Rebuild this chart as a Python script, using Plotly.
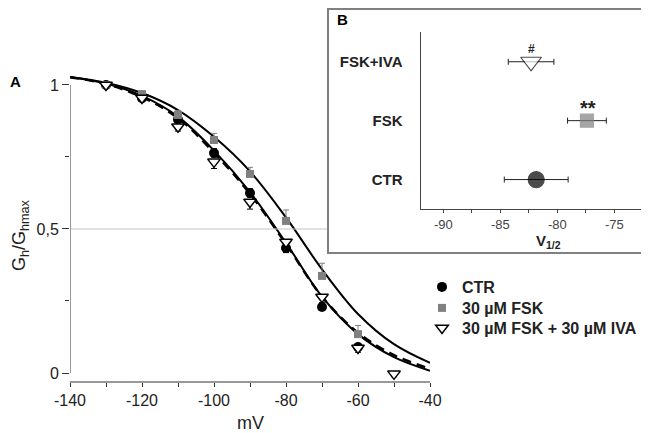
import plotly.graph_objects as go

FONT = "Liberation Sans"
OFF = 8                      # page offset of the plot div
W, H = 649 - OFF, 433 - OFF  # figure size that fits the window

# ---------------- data: panel A ----------------
fit_v = [-140, -130, -120, -110, -100, -90, -80, -70, -60, -50, -40]
fit_ctr = [1.027, 1.005, 0.962, 0.89, 0.772, 0.628, 0.452, 0.265, 0.135, 0.055, 0.008]
fit_fsk = [1.028, 1.008, 0.972, 0.913, 0.82, 0.70, 0.54, 0.36, 0.205, 0.10, 0.035]
fit_iva = [1.027, 1.003, 0.958, 0.885, 0.765, 0.622, 0.448, 0.265, 0.14, 0.062, 0.015]

ctr_v = [-130, -120, -110, -100, -90, -80, -70, -60]
ctr_g = [1.0, 0.954, 0.88, 0.764, 0.625, 0.434, 0.229, 0.09]
ctr_err = [0.01, 0.01, 0.015, 0.015, 0.015, 0.015, 0.012, 0.01]

fsk_v = [-130, -120, -110, -100, -90, -80, -70, -60]
fsk_g = [1.0, 0.968, 0.896, 0.809, 0.691, 0.528, 0.337, 0.135]
fsk_err = [0.01, 0.012, 0.015, 0.023, 0.023, 0.038, 0.044, 0.03]

iva_v = [-130, -120, -110, -100, -90, -80, -70, -60, -50]
iva_g = [1.0, 0.955, 0.855, 0.733, 0.594, 0.455, 0.264, 0.087, -0.003]
iva_err = [0.01, 0.012, 0.015, 0.023, 0.025, 0.037, 0.02, 0.015, 0.01]

x_ticks = [-140, -120, -100, -80, -60, -40]
x_ticktext = ["-140", "-120", "-100", "-80", "-60", "-40"]
x_minor = [-130, -110, -90, -70, -50]
y_ticks = [0, 0.5, 1]
y_ticktext = ["0", "0,5", "1"]
y_minor = [0.25, 0.75]

# ---------------- data: panel B ----------------
v12_cats = ["CTR", "FSK", "FSK+IVA"]
v12_mean = [-81.85, -77.4, -82.3]
v12_err = [2.8, 1.7, 2.0]
v12_sig = ["", "**", "#"]
inset_ticks = [-90, -85, -80, -75]
inset_ticktext = ["-90", "-85", "-80", "-75"]
inset_minor = [-87.5, -82.5, -77.5, -72.5]


def fx(p):
    return (p - OFF) / W


def fy(p):
    return 1 - (p - OFF) / H


fig = go.Figure()

# fitted curves
fig.add_trace(go.Scatter(x=fit_v, y=fit_fsk, mode="lines", line=dict(color="black", width=2, shape="spline"),
                         showlegend=False, hoverinfo="skip"))
fig.add_trace(go.Scatter(x=fit_v, y=fit_ctr, mode="lines", line=dict(color="black", width=2, shape="spline"),
                         showlegend=False, hoverinfo="skip"))
fig.add_trace(go.Scatter(x=fit_v, y=fit_iva, mode="lines",
                         line=dict(color="black", width=2.5, shape="spline", dash="9px,6px"),
                         showlegend=False, hoverinfo="skip"))

# data points
fig.add_trace(go.Scatter(x=ctr_v, y=ctr_g, mode="markers", name="<b>CTR</b>", legend="legend",
                         marker=dict(symbol="circle", size=10, color="black"),
                         error_y=dict(type="data", array=ctr_err, color="black", thickness=1, width=3),
                         cliponaxis=False))
fig.add_trace(go.Scatter(x=fsk_v, y=fsk_g, mode="markers", name="<b>30 µM FSK</b>", legend="legend2",
                         marker=dict(symbol="square", size=8, color="#808080"),
                         error_y=dict(type="data", array=fsk_err, arrayminus=[0] * len(fsk_err),
                                      color="#808080", thickness=1, width=3),
                         cliponaxis=False))
fig.add_trace(go.Scatter(x=iva_v, y=iva_g, mode="markers", name="<b>30 µM FSK + 30 µM IVA</b>",
                         legend="legend3",
                         marker=dict(symbol="triangle-down", size=11, color="white",
                                     line=dict(color="black", width=1.5)),
                         error_y=dict(type="data", array=[0] * len(iva_err), arrayminus=iva_err,
                                      color="black", thickness=1, width=3),
                         cliponaxis=False))

# inset
fig.add_trace(go.Scatter(x=v12_mean, y=[0, 1, 2], mode="markers", xaxis="x2", yaxis="y2",
                         showlegend=False,
                         marker=dict(symbol=["circle", "square", "triangle-down"], size=[16, 13, 18],
                                     color=["black", "#808080", "white"],
                                     line=dict(color=["black", "#808080", "black"], width=1.2)),
                         error_x=dict(type="data", array=v12_err, color="#222", thickness=1, width=3),
                         cliponaxis=False))

tickfont = dict(family=FONT, size=16, color="#222")
legfont = dict(family=FONT, size=16, color="#222")


def leg(ypx):
    return dict(x=fx(422), y=fy(ypx), xanchor="left", yanchor="middle", font=legfont,
                bgcolor="rgba(0,0,0,0)")


def ann(text, x, y, size, color="#222", **kw):
    d = dict(text=text, x=x, y=y, xref="paper", yref="paper", showarrow=False,
             xanchor="center", yanchor="middle", font=dict(family=FONT, size=size, color=color))
    d.update(kw)
    return d


fig.update_layout(
    width=W, height=H,
    margin=dict(l=0, r=0, t=0, b=0, autoexpand=False),
    paper_bgcolor="white", plot_bgcolor="rgba(0,0,0,0)",
    font=dict(family=FONT, color="#222"),
    xaxis=dict(domain=[fx(70), fx(430)], range=[-140, -40], tickvals=x_ticks, ticktext=x_ticktext,
               automargin=False,
               ticks="outside", ticklen=4, tickcolor="#333", showline=False, showgrid=False,
               zeroline=False, tickfont=tickfont,
               minor=dict(tickvals=x_minor, ticks="outside", ticklen=4, tickcolor="#333")),
    yaxis=dict(domain=[fy(382), fy(64.8)], range=[-0.03125, 1.07], tickvals=y_ticks, automargin=False,
               ticktext=y_ticktext, ticks="outside", ticklen=7, tickcolor="#333",
               showline=False, showgrid=False, zeroline=False, tickfont=tickfont,
               minor=dict(tickvals=y_minor, ticks="outside", ticklen=4, tickcolor="#333")),
    xaxis2=dict(domain=[fx(420.5), fx(642.8)], range=[-92, -72.5], anchor="y2", automargin=False,
                tickvals=inset_ticks, ticktext=inset_ticktext, ticks="outside", ticklen=3,
                tickcolor="#444",
                showline=True, linecolor="#444", linewidth=1, showgrid=False, zeroline=False,
                tickfont=dict(family=FONT, size=13, color="#444"),
                minor=dict(tickvals=inset_minor, ticks="outside", ticklen=3, tickcolor="#444")),
    yaxis2=dict(domain=[fy(209), fy(32.3)], range=[-0.5, 2.5], anchor="x2", automargin=False,
                tickvals=[0, 1, 2], ticktext=["<b>%s</b>" % c for c in v12_cats],
                ticks="", ticklabelstandoff=14, showline=True, linecolor="#444", linewidth=1,
                showgrid=False, zeroline=False,
                tickfont=dict(family=FONT, size=15, color="#222")),
    legend=leg(287),
    legend2=leg(308),
    legend3=leg(328),
    shapes=[
        # panel A axis lines
        dict(type="line", xref="x", yref="y", x0=-140, x1=-140, y0=0, y1=1,
             line=dict(color="#333", width=1)),
        dict(type="line", xref="x", yref="y domain", x0=-140, x1=-40, y0=0, y1=0,
             line=dict(color="#333", width=1)),
        # reference line at half activation
        dict(type="line", xref="paper", yref="y", x0=fx(71), x1=fx(328), y0=0.5, y1=0.5,
             line=dict(color="#c4c4c4", width=1)),
        # inset frame
        dict(type="rect", xref="paper", yref="paper", x0=fx(328), x1=fx(646), y0=fy(253), y1=fy(9),
             line=dict(color="#808080", width=2)),
    ],
    annotations=[
        ann("mV", fx(250), fy(423), 18),
        ann("G<sub>h</sub>/G<sub>hmax</sub>", fx(21), fy(235), 18, textangle=-90),
        ann("<b>A</b>", fx(15), fy(82), 15, "black"),
        ann("<b>B</b>", fx(342), fy(20), 15, "black"),
        ann("<b>V<sub>1/2</sub></b>", fx(548), fy(241), 15),
        dict(text="<b>%s</b>" % v12_sig[2], x=v12_mean[2], y=2.22, xref="x2", yref="y2",
             showarrow=False, xanchor="center", yanchor="middle",
             font=dict(family=FONT, size=12, color="#222")),
        dict(text="<b>%s</b>" % v12_sig[1], x=v12_mean[1] + 0.1, y=1.22, xref="x2", yref="y2",
             showarrow=False, xanchor="center", yanchor="middle",
             font=dict(family=FONT, size=20, color="#222")),
    ],
)

fig.write_html("out.html")
